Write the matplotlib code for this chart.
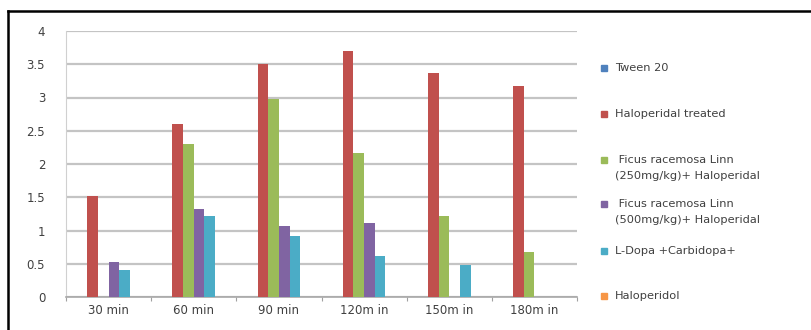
import matplotlib
matplotlib.use("Agg")
import matplotlib.pyplot as plt
import numpy as np
from matplotlib.patches import Rectangle
from matplotlib.lines import Line2D

categories = ["30 min", "60 min", "90 min", "120m in", "150m in", "180m in"]
series_names = [
    "Tween 20",
    "Haloperidal treated",
    " Ficus racemosa Linn\n(250mg/kg)+ Haloperidal",
    " Ficus racemosa Linn\n(500mg/kg)+ Haloperidal",
    "L-Dopa +Carbidopa+",
    "Haloperidol",
]
tween20 = [0, 0, 0, 0, 0, 0]
haloperidal_treated = [1.52, 2.60, 3.50, 3.70, 3.37, 3.18]
ficus_250 = [0, 2.30, 2.98, 2.17, 1.22, 0.68]
ficus_500 = [0.52, 1.32, 1.07, 1.12, 0, 0]
ldopa = [0.40, 1.22, 0.92, 0.62, 0.48, 0]
haloperidol = [0, 0, 0, 0, 0, 0]
series_values = [tween20, haloperidal_treated, ficus_250, ficus_500, ldopa, haloperidol]
colors = ["#4F81BD", "#C0504D", "#9BBB59", "#8064A2", "#4BACC6", "#F79646"]
yticks = [0, 0.5, 1, 1.5, 2, 2.5, 3, 3.5, 4]
ytick_labels = ["0", "0.5", "1", "1.5", "2", "2.5", "3", "3.5", "4"]

W, H = 811, 330
fig = plt.figure(figsize=(W / 100, H / 100), dpi=100)
fig.patch.set_facecolor("white")
ax = fig.add_axes([66 / W, 1 - 297 / H, (577 - 66) / W, (297 - 31) / H])

n = len(series_values)
bw = 0.75 / n
x = np.arange(len(categories)) + 0.5
for i, (vals, c) in enumerate(zip(series_values, colors)):
    ax.bar(x + (i - (n - 1) / 2) * bw, vals, width=bw, color=c, zorder=3, linewidth=0)

ax.set_xlim(0, len(categories))
ax.set_ylim(0, 4)
ax.set_yticks(yticks)
ax.set_yticklabels(ytick_labels)
ax.yaxis.grid(True, color="#C4C4C4", linewidth=1.6, zorder=0)
ax.set_axisbelow(True)
ax.tick_params(axis="y", length=0, pad=15, labelsize=8.5, colors="#404040")
ax.set_xticks(np.arange(len(categories) + 1))
ax.set_xticklabels([])
ax.set_xticks(x, minor=True)
ax.set_xticklabels(categories, minor=True)
ax.tick_params(axis="x", which="major", length=3, color="#A0A0A0", direction="out")
ax.tick_params(axis="x", which="minor", length=0, pad=5, labelsize=8.5, colors="#404040")
for s in ["top", "right"]:
    ax.spines[s].set_visible(False)
ax.spines["left"].set_color("#D0D0D0")
ax.spines["bottom"].set_color("#A8A8A8")
ax.spines["bottom"].set_linewidth(1.2)

# legend (manual layout)
entries_y = [68, 114, 160, 204, 251, 296]
for name, c, yy in zip(series_names, colors, entries_y):
    fig.patches.append(Rectangle((601 / W, 1 - (yy + 3) / H), 6 / W, 6 / H,
                                 transform=fig.transFigure, color=c, figure=fig))
    lines = name.split("\n")
    for k, line in enumerate(lines):
        fig.text(615 / W, 1 - (yy + k * 16) / H, line, fontsize=8.2, color="#404040",
                 va="center", ha="left")

# outer border lines (top and left)
fig.add_artist(Line2D([8 / W, 1], [1 - 11 / H, 1 - 11 / H], transform=fig.transFigure,
                      color="black", linewidth=1.8))
fig.add_artist(Line2D([8 / W, 8 / W], [0, 1 - 11 / H], transform=fig.transFigure,
                      color="black", linewidth=1.8))

fig.savefig("out.png", dpi=100)
